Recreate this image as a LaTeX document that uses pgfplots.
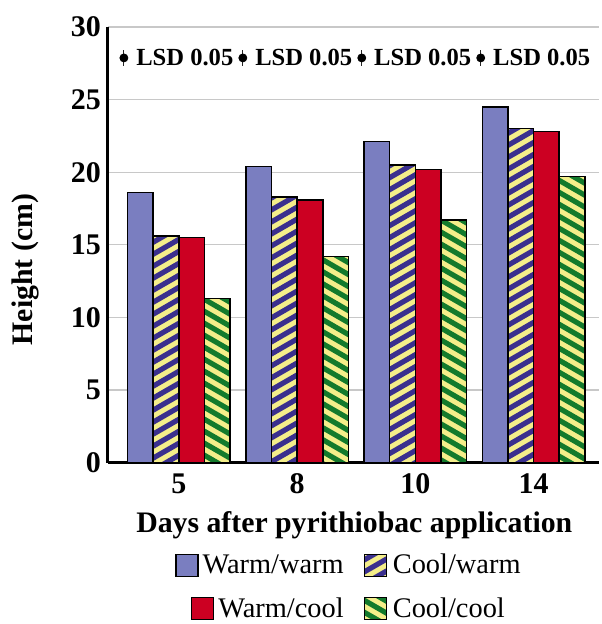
\documentclass[border=0pt]{standalone}
\usepackage{fontspec}
\setmainfont{Liberation Serif}
\usepackage{pgfplots}
\pgfplotsset{compat=1.18}
\definecolor{cblue}{HTML}{7A7EC0}
\definecolor{cred}{HTML}{CC0022}
\definecolor{cyel}{HTML}{F4EE8A}
\definecolor{cnavy}{HTML}{3A2F8E}
\definecolor{cgreen}{HTML}{137A2C}
\definecolor{cgrid}{HTML}{C8C8C8}
% stripes clipped to the bars by path picture (basic layer, so no recursion)
\tikzset{
  stripes/.style n args={2}{path picture={
    \pgfsetstrokecolor{#2}\pgfsetlinewidth{2.6pt}
    \foreach \k in {-24,...,58}{
      \pgfpathmoveto{\pgfpointadd{\pgfpointanchor{path picture bounding box}{south west}}{\pgfpoint{-4pt}{\k*6pt}}}
      \pgfpathlineto{\pgfpointadd{\pgfpointanchor{path picture bounding box}{south west}}{\pgfpointadd{\pgfpoint{-4pt}{\k*6pt}}{\pgfpointpolar{#1}{240pt}}}}
    }
    \pgfusepath{stroke}}},
  cw/.style={fill=cyel,draw=black,line width=0.75pt,stripes={30}{cnavy}},
  cc/.style={fill=cyel,draw=black,line width=0.75pt,stripes={-30}{cgreen}},
  lsd/.style={font=\fontsize{12.3}{14}\selectfont\bfseries,anchor=west,inner sep=0pt},
}
\pgfplotsset{
  base/.style={
    scale only axis, width=245.5pt, height=218pt,
    xmin=-0.6, xmax=3.55, ymin=0, ymax=30,
  },
  legimg/.style={legend image code/.code={\draw[##1] (0pt,-5.5pt) rectangle (11pt,5.5pt);}},
  legrow/.style={legend columns=2, legend cell align=left,
    legend style={draw=none, fill=none, inner sep=0pt, anchor=center,
      font=\fontsize{14.2}{16}\selectfont, nodes={inner xsep=2pt},
      /tikz/every even column/.append style={column sep=7pt}}},
}
\begin{document}
\begin{tikzpicture}
\begin{axis}[base, legimg, legrow,
  legend style={at={(axis description cs:0.493,-0.236)}},
  axis x line*=bottom, axis y line*=left,
  axis line style={line width=1.5pt,-},
  major tick length=0pt,
  ytick={0,5,...,30}, ymajorgrids, grid style={cgrid,line width=0.6pt},
  xtick={0,1,2,3}, xticklabels={5,8,10,14},
  /pgf/number format/assume math mode=true,
  tick label style={font=\fontsize{15}{17}\selectfont\bfseries},
  xticklabel style={yshift=-2pt},
  xlabel={Days after pyrithiobac application},
  ylabel={Height (cm)},
  label style={font=\fontsize{14.9}{16}\selectfont\bfseries},
  xlabel style={at={(axis description cs:0.502,-0.1606)},anchor=base},
  ylabel style={at={(axis description cs:-0.169,0.443)},anchor=center},
]
\addplot[ybar, bar width=0.217, bar shift=-0.3255, fill=cblue, draw=black, line width=0.75pt]
  coordinates {(0,18.6) (1,20.4) (2,22.1) (3,24.5)};
\addplot[ybar, bar width=0.217, bar shift=-0.1085, cw]
  coordinates {(0,15.6) (1,18.3) (2,20.5) (3,23.0)};
\addplot[ybar, bar width=0.217, bar shift=0.1085, fill=cred, draw=black, line width=0.75pt, forget plot]
  coordinates {(0,15.5) (1,18.1) (2,20.2) (3,22.8)};
\addplot[ybar, bar width=0.217, bar shift=0.3255, cc, forget plot]
  coordinates {(0,11.3) (1,14.2) (2,16.7) (3,19.7)};
\legend{Warm/warm,Cool/warm}
% LSD bars
\addplot[only marks, mark=none, forget plot,
  error bars/.cd, y dir=both, y explicit, error mark=-,
  error bar style={line width=0.5pt,black!85},
  error mark options={mark size=1.3pt,line width=0.5pt,black!85}]
  coordinates {(-0.465,27.87) +- (0,0.36) (0.541,27.87) +- (0,0.36)
               (1.547,27.87) +- (0,0.36) (2.553,27.87) +- (0,0.36)};
\node[lsd] at (axis cs:-0.363,27.87) {LSD 0.05};
\node[lsd] at (axis cs:0.643,27.87) {LSD 0.05};
\node[lsd] at (axis cs:1.649,27.87) {LSD 0.05};
\node[lsd] at (axis cs:2.655,27.87) {LSD 0.05};
\end{axis}
\begin{axis}[base, hide axis, legimg, legrow,
  legend style={at={(axis description cs:0.493,-0.335)}}]
\addlegendimage{fill=cred, draw=black, line width=0.75pt}
\addlegendentry{Warm/cool}
\addlegendimage{cc}
\addlegendentry{Cool/cool}
\end{axis}
\path (-54pt,-80.5pt) rectangle (247pt,231.5pt);
\end{tikzpicture}
\end{document}
